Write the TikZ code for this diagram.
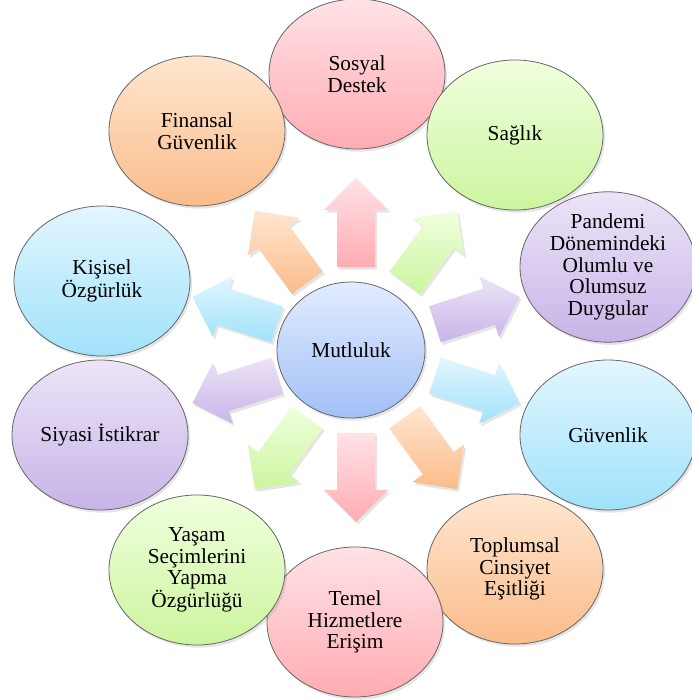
\documentclass[tikz,border=0pt]{standalone}
\usepackage{fontspec}
\setmainfont{Liberation Serif}
\definecolor{pinktop}{RGB}{255, 226, 230}
\definecolor{pinkbot}{RGB}{255, 172, 178}
\definecolor{greentop}{RGB}{240, 255, 222}
\definecolor{greenbot}{RGB}{204, 245, 158}
\definecolor{purpletop}{RGB}{236, 228, 247}
\definecolor{purplebot}{RGB}{200, 180, 232}
\definecolor{cyantop}{RGB}{226, 246, 255}
\definecolor{cyanbot}{RGB}{160, 226, 250}
\definecolor{orangetop}{RGB}{255, 230, 208}
\definecolor{orangebot}{RGB}{250, 188, 138}
\definecolor{bluetop}{RGB}{226, 236, 255}
\definecolor{bluebot}{RGB}{162, 192, 246}
\usetikzlibrary{
    shapes.geometric,
    positioning,
    calc,
    shadows
}

\begin{document}
\begin{tikzpicture}[x=0.75pt, y=0.75pt,
    bubble/.style={ellipse, draw=black!60, line width=0.6pt,
        top color=#1top, bottom color=#1bot,
        minimum width=132pt, minimum height=112.5pt, inner sep=0pt,
        align=center, text=black, font=\fontsize{16}{16.3}\selectfont,
        drop shadow={shadow xshift=1.5pt, shadow yshift=-2pt, opacity=0.2}},
    blockarrow/.style={top color=#1top, bottom color=#1bot, draw=none,
        drop shadow={shadow xshift=1.5pt, shadow yshift=-2pt, opacity=0.2}}]
    % canvas
    \fill[white] (0,0) rectangle (692,700);
    \useasboundingbox (0,0) rectangle (692,700);

    % arrows round the centre
    \coordinate (m) at (356,350);
    \foreach \ang/\clr in {90/pink, 54/green, 18/purple, -18/cyan, -54/orange,
                           -90/pink, -126/green, -162/purple, 162/cyan, 126/orange}
        \path[blockarrow=\clr]
            ($(m)+(\ang:83)+(\ang+90:19)$) -- ($(m)+(\ang:140)+(\ang+90:19)$)
            -- ($(m)+(\ang:140)+(\ang+90:32)$) -- ($(m)+(\ang:172)$)
            -- ($(m)+(\ang:140)+(\ang-90:32)$) -- ($(m)+(\ang:140)+(\ang-90:19)$)
            -- ($(m)+(\ang:83)+(\ang-90:19)$) -- cycle;

    % centre
    \node[bubble=blue, minimum width=111pt, minimum height=102pt] (mutluluk) at (351,350) {Mutluluk};

    % outer ring
    \node[bubble=pink] (sosyal) at (357,626) {Sosyal\\Destek};
    \node[bubble=green] (saglik) at (515,565) {Sağlık};
    \node[bubble=purple] (pandemi) at (608,433) {Pandemi\\Dönemindeki\\Olumlu ve\\Olumsuz\\Duygular};
    \node[bubble=cyan] (guvenlik) at (608,265) {Güvenlik};
    \node[bubble=orange] (esitlik) at (515,131) {Toplumsal\\Cinsiyet\\Eşitliği};
    \node[bubble=pink] (hizmet) at (355,78) {Temel\\Hizmetlere\\Erişim};
    \node[bubble=green] (secim) at (197,130) {Yaşam\\Seçimlerini\\Yapma\\Özgürlüğü};
    \node[bubble=purple] (istikrar) at (100,265) {Siyasi İstikrar};
    \node[bubble=cyan] (ozgurluk) at (102,419) {Kişisel\\Özgürlük};
    \node[bubble=orange] (finans) at (197,569) {Finansal\\Güvenlik};
\end{tikzpicture}
\end{document}
